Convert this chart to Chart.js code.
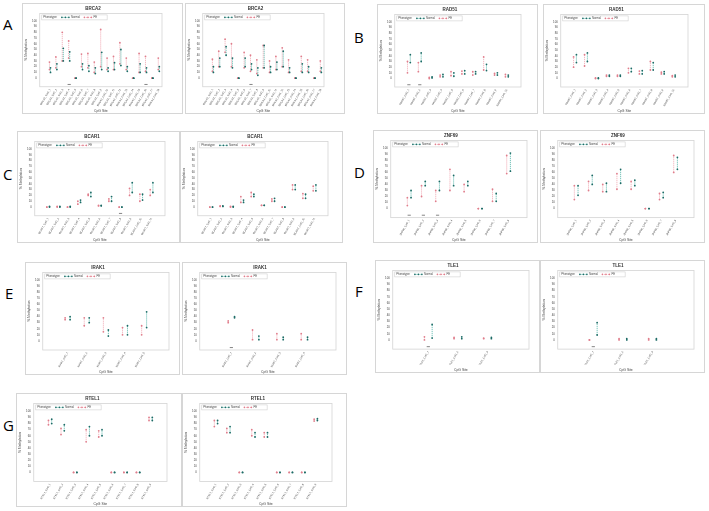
<!DOCTYPE html>
<html>
<head>
<meta charset="utf-8">
<script src="https://cdn.jsdelivr.net/npm/chart.js@4.4.1/dist/chart.umd.min.js"></script>
<style>
  body { margin: 0; background: #fff; width: 709px; height: 511px; position: relative; overflow: hidden; }
  .panel { position: absolute; border: 1px solid #d6d6d6; box-sizing: border-box; background: #fff; }
  .tag { position: absolute; font-family: "Open Sans", sans-serif; font-size: 15px; line-height: 1; color: #000; }
</style>
</head>
<body>
<div class="tag" style="left:3px;top:17px">A</div>
<div class="tag" style="left:354px;top:30px">B</div>
<div class="tag" style="left:3px;top:167px">C</div>
<div class="tag" style="left:354px;top:165px">D</div>
<div class="tag" style="left:5px;top:286px">E</div>
<div class="tag" style="left:355px;top:284px">F</div>
<div class="tag" style="left:3px;top:418px">G</div>

<div class="panel" style="left:22px;top:3px;width:161px;height:111px"><canvas id="brca2a"></canvas></div>
<div class="panel" style="left:185px;top:3px;width:160px;height:111px"><canvas id="brca2b"></canvas></div>
<div class="panel" style="left:377px;top:4px;width:161px;height:110px"><canvas id="rad51a"></canvas></div>
<div class="panel" style="left:543px;top:4px;width:162px;height:110px"><canvas id="rad51b"></canvas></div>
<div class="panel" style="left:17px;top:131px;width:163px;height:112px"><canvas id="bcar1a"></canvas></div>
<div class="panel" style="left:180px;top:131px;width:163px;height:112px"><canvas id="bcar1b"></canvas></div>
<div class="panel" style="left:373px;top:130px;width:165px;height:113px"><canvas id="znf69a"></canvas></div>
<div class="panel" style="left:540px;top:130px;width:165px;height:113px"><canvas id="znf69b"></canvas></div>
<div class="panel" style="left:25px;top:262px;width:155px;height:113px"><canvas id="irak1a"></canvas></div>
<div class="panel" style="left:182px;top:262px;width:165px;height:113px"><canvas id="irak1b"></canvas></div>
<div class="panel" style="left:375px;top:260px;width:165px;height:113px"><canvas id="tle1a"></canvas></div>
<div class="panel" style="left:540px;top:260px;width:165px;height:113px"><canvas id="tle1b"></canvas></div>
<div class="panel" style="left:16px;top:393px;width:166px;height:114px"><canvas id="rtel1a"></canvas></div>
<div class="panel" style="left:182px;top:393px;width:165px;height:114px"><canvas id="rtel1b"></canvas></div>

<script>
// y axis ticks shared by every panel
const yTicks = [0, 10, 20, 30, 40, 50, 60, 70, 80, 90, 100];
const legendTitle = "Phenotype:";

// ---- BRCA2 (A) ----
const brca2Sites = ["BRCA2_CpG_1", "BRCA2_CpG_2", "BRCA2_CpG_3", "BRCA2_CpG_4", "BRCA2_CpG_5", "BRCA2_CpG_6",
  "BRCA2_CpG_7", "BRCA2_CpG_8", "BRCA2_CpG_9", "BRCA2_CpG_10", "BRCA2_CpG_11", "BRCA2_CpG_12",
  "BRCA2_CpG_13", "BRCA2_CpG_14", "BRCA2_CpG_15", "BRCA2_CpG_16", "BRCA2_CpG_17", "BRCA2_CpG_18"];
const brca2aNormal = [[10,18],[15,25],[30,52],[30,46],[0,0],[15,25],[12,22],[8,18],[15,45],[12,18],[15,27],[22,50],[12,20],[0,0],[10,25],[10,18],[0,0],[12,20]];
const brca2aPE = [[15,28],[18,37],[30,80],[35,65],[0,0],[20,42],[18,43],[10,28],[20,85],[15,35],[15,38],[25,62],[15,35],[0,0],[10,43],[12,38],[0,0],[15,35]];
const brca2aBelow = [3, 15];
const brca2bNormal = [[10,20],[20,35],[40,55],[18,35],[0,0],[20,35],[15,25],[5,18],[18,57],[10,20],[15,28],[20,47],[10,18],[0,0],[10,25],[10,20],[0,0],[10,18]];
const brca2bPE = [[12,33],[20,47],[45,68],[20,60],[0,0],[18,45],[12,40],[8,32],[18,57],[10,30],[15,38],[20,53],[10,32],[0,0],[12,38],[12,32],[0,0],[12,30]];
const brca2bBelow = [6];

// ---- RAD51 (B) ----
const rad51Sites = ["RAD51_CpG_1", "RAD51_CpG_2", "RAD51_CpG_3", "RAD51_CpG_4", "RAD51_CpG_5",
  "RAD51_CpG_6", "RAD51_CpG_7", "RAD51_CpG_8", "RAD51_CpG_9", "RAD51_CpG_10"];
const rad51aNormal = [[28,42],[30,45],[1,3],[3,7],[4,10],[8,14],[8,12],[14,25],[6,10],[3,6]];
const rad51aPE = [[10,30],[12,28],[0,2],[3,6],[5,12],[8,13],[6,12],[15,38],[6,9],[3,7]];
const rad51aBelow = [0, 1];
const rad51bNormal = [[28,42],[30,45],[0,1],[4,6],[4,6],[12,18],[8,14],[15,28],[8,12],[3,6]];
const rad51bPE = [[20,38],[22,42],[0,1],[4,6],[4,6],[10,18],[8,13],[15,30],[8,11],[3,5]];
const rad51bBelow = [];

// ---- BCAR1 (C) ----
const bcar1Sites = ["BCAR1_CpG_1", "BCAR1_CpG_2", "BCAR1_CpG_3", "BCAR1_CpG_4", "BCAR1_CpG_5", "BCAR1_CpG_6",
  "BCAR1_CpG_7", "BCAR1_CpG_8", "BCAR1_CpG_9", "BCAR1_CpG_10", "BCAR1_CpG_11"];
const bcar1aNormal = [[0,1],[0,1],[0,1],[8,12],[18,25],[2,3],[10,18],[0,0],[25,42],[12,22],[25,42]];
const bcar1aPE = [[0,0],[0,1],[0,0],[5,10],[20,22],[2,3],[10,14],[0,0],[20,32],[10,22],[20,30]];
const bcar1aBelow = [7];
const bcar1bNormal = [[0,0],[1,2],[0,1],[8,12],[18,22],[3,3],[10,15],[0,0],[30,38],[15,22],[28,38]];
const bcar1bPE = [[0,0],[1,2],[0,1],[8,18],[18,25],[3,3],[10,14],[0,0],[30,38],[15,23],[28,36]];
const bcar1bBelow = [];

// ---- ZNF69 (D) ----
const znf69Sites = ["ZNF69_CpG_1", "ZNF69_CpG_2", "ZNF69_CpG_3", "ZNF69_CpG_4",
  "ZNF69_CpG_5", "ZNF69_CpG_6", "ZNF69_CpG_7", "ZNF69_CpG_8"];
const znf69aNormal = [[18,30],[38,45],[30,45],[38,55],[38,45],[0,0],[12,25],[62,92]];
const znf69aPE = [[5,18],[20,38],[12,30],[30,65],[28,40],[0,0],[12,32],[58,88]];
const znf69aBelow = [0, 1, 2];
const znf69bNormal = [[22,38],[40,55],[28,42],[42,65],[38,47],[0,0],[18,27],[65,85]];
const znf69bPE = [[15,38],[30,45],[28,40],[32,58],[32,45],[0,0],[15,25],[60,88]];
const znf69bBelow = [];

// ---- IRAK1 (E) ----
const irak1aSites = ["IRAK1_CpG_1", "IRAK1_CpG_2", "IRAK1_CpG_3", "IRAK1_CpG_4", "IRAK1_CpG_5"];
const irak1aNormal = [[35,40],[30,38],[8,18],[10,25],[22,48]];
const irak1aPE = [[35,38],[25,38],[15,38],[10,22],[10,25]];
const irak1aBelow = [];
const irak1bSites = ["IRAK1_CpG_1", "IRAK1_CpG_2", "IRAK1_CpG_3", "IRAK1_CpG_4"];
const irak1bNormal = [[38,40],[2,8],[2,6],[2,6]];
const irak1bPE = [[30,33],[2,18],[2,12],[2,12]];
const irak1bBelow = [0];

// ---- TLE1 (F) ----
const tle1Sites = ["TLE1_CpG_1", "TLE1_CpG_2", "TLE1_CpG_3"];
const tle1aNormal = [[3,25],[2,5],[2,4]];
const tle1aPE = [[0,5],[2,4],[2,3]];
const tle1aBelow = [0];
const tle1bNormal = [[8,28],[0,2],[0,2]];
const tle1bPE = [[0,0],[0,2],[0,2]];
const tle1bBelow = [0];

// ---- RTEL1 (G) ----
const rtel1Sites = ["RTEL1_CpG_1", "RTEL1_CpG_2", "RTEL1_CpG_3", "RTEL1_CpG_4", "RTEL1_CpG_5",
  "RTEL1_CpG_6", "RTEL1_CpG_7", "RTEL1_CpG_8", "RTEL1_CpG_9"];
const rtel1aNormal = [[80,87],[68,78],[0,0],[60,75],[60,70],[0,0],[0,0],[0,0],[85,90]];
const rtel1aPE = [[78,85],[62,72],[0,0],[50,70],[58,68],[0,0],[0,0],[0,0],[85,90]];
const rtel1bNormal = [[80,85],[65,75],[0,0],[58,65],[58,65],[0,0],[0,0],[0,0],[85,88]];
const rtel1bPE = [[75,85],[65,72],[0,0],[60,70],[58,65],[0,0],[0,0],[0,0],[84,87]];

const NORMAL_LINE = "#4fb3a6";
const NORMAL_DOT = "#1d6b66";
const PE_LINE = "#f0a3ae";
const PE_DOT = "#e07e8c";
const FONT = "'Liberation Sans', Arial, sans-serif";

Chart.defaults.font.family = FONT;
Chart.defaults.color = "#444";

// grey frame round the plotting area + the small legend box in its top-left corner
const frame = {
  id: "frame",
  beforeDraw(chart) {
    const a = chart.chartArea, ctx = chart.ctx;
    ctx.save();
    ctx.strokeStyle = "#d4d4d4";
    ctx.lineWidth = 0.8;
    ctx.strokeRect(a.left, a.top, a.right - a.left, a.bottom - a.top);
    ctx.restore();
  },
  afterDraw(chart) {
    const a = chart.chartArea, ctx = chart.ctx;
    const sets = chart.data.datasets.filter(d => d.label !== "below");
    ctx.save();
    ctx.font = "2.8px " + FONT;
    ctx.textBaseline = "middle";
    const y = a.top + 4;
    const start = a.left + 2;
    let x = start + 1.5;
    ctx.fillStyle = "#444";
    ctx.fillText(legendTitle, x, y);
    x += ctx.measureText(legendTitle).width + 4;
    sets.forEach(d => {
      ctx.strokeStyle = d.borderColor;
      ctx.lineWidth = 0.8;
      ctx.setLineDash([1.2, 0.8]);
      ctx.beginPath();
      ctx.moveTo(x, y);
      ctx.lineTo(x + 8, y);
      ctx.stroke();
      ctx.setLineDash([]);
      ctx.fillStyle = d.pointBackgroundColor;
      [0.5, 4, 7.5].forEach(dx => { ctx.beginPath(); ctx.arc(x + dx, y, 0.8, 0, Math.PI * 2); ctx.fill(); });
      x += 9.5;
      ctx.fillStyle = "#444";
      ctx.fillText(d.label, x, y);
      x += ctx.measureText(d.label).width + 4;
    });
    ctx.strokeStyle = "#cfcfcf";
    ctx.lineWidth = 0.6;
    ctx.strokeRect(start, a.top + 1.5, x - start + 6, 5);
    ctx.restore();
  }
};

// each range becomes a short vertical segment, broken by a null point
function rangePoints(ranges, shift) {
  const pts = [];
  ranges.forEach((r, i) => {
    pts.push({ x: i + shift, y: r[0] }, { x: i + shift, y: r[1] }, { x: i + shift, y: null });
  });
  return pts;
}

function drawPanel(id, title, sites, normal, pe, below, opts) {
  opts = opts || {};
  const padL = opts.padL || 1.3, padR = opts.padR || 1.3;
  const shift = opts.shift || 0.13;

  new Chart(document.getElementById(id), {
    type: "line",
    data: {
      datasets: [
        {
          label: "Normal",
          data: rangePoints(normal, shift),
          borderColor: NORMAL_LINE,
          borderWidth: 0.8,
          borderDash: [1.2, 0.8],
          pointRadius: 0.9,
          pointBackgroundColor: NORMAL_DOT,
          pointBorderWidth: 0,
          spanGaps: false
        },
        {
          label: "PE",
          data: rangePoints(pe, -shift),
          borderColor: PE_LINE,
          borderWidth: 0.8,
          borderDash: [1.2, 0.8],
          pointRadius: 0.9,
          pointBackgroundColor: PE_DOT,
          pointBorderWidth: 0,
          spanGaps: false
        },
        {
          label: "below",
          data: below.map(i => ({ x: i, y: -11 })),
          showLine: false,
          pointStyle: "line",
          pointRadius: 1.6,
          borderColor: "#666",
          borderWidth: 0.8
        }
      ]
    },
    options: {
      responsive: true,
      maintainAspectRatio: false,
      animation: false,
      layout: { padding: { left: 1, right: opts.right || 10, top: 0, bottom: 0 } },
      plugins: {
        title: {
          display: true,
          text: title,
          font: { size: 4.5, weight: "bold" },
          color: "#333",
          padding: { top: 2, bottom: 2 }
        },
        legend: { display: false },
        tooltip: { enabled: false }
      },
      scales: {
        x: {
          type: "linear",
          min: -padL,
          max: sites.length - 1 + padR,
          afterBuildTicks: s => { s.ticks = sites.map((_, i) => ({ value: i })); },
          grid: { display: false, drawTicks: false },
          border: { display: false },
          ticks: {
            callback: v => sites[v],
            autoSkip: false,
            minRotation: 60,
            maxRotation: 60,
            padding: 1.5,
            font: { size: 2.6 }
          },
          title: { display: true, text: "CpG Site", font: { size: 3.4 }, padding: { top: 0.5, bottom: 0 } }
        },
        y: {
          min: -15,
          max: 113,
          afterBuildTicks: s => { s.ticks = yTicks.map(v => ({ value: v })); },
          grid: { display: false, drawTicks: false },
          border: { display: false },
          ticks: { font: { size: 2.8 }, padding: 3 },
          title: { display: true, text: "% Methylation", font: { size: 3.4 }, padding: { top: 0, bottom: 1 } }
        }
      }
    },
    plugins: [frame]
  });
}

drawPanel("brca2a", "BRCA2", brca2Sites, brca2aNormal, brca2aPE, brca2aBelow, { padL: 1.6, padR: 0.5, shift: 0.08, right: 20 });
drawPanel("brca2b", "BRCA2", brca2Sites, brca2bNormal, brca2bPE, brca2bBelow, { padL: 1.6, padR: 0.5, shift: 0.08, right: 20 });
drawPanel("rad51a", "RAD51", rad51Sites, rad51aNormal, rad51aPE, rad51aBelow, { right: 16 });
drawPanel("rad51b", "RAD51", rad51Sites, rad51bNormal, rad51bPE, rad51bBelow, { right: 16 });
drawPanel("bcar1a", "BCAR1", bcar1Sites, bcar1aNormal, bcar1aPE, bcar1aBelow, { right: 14 });
drawPanel("bcar1b", "BCAR1", bcar1Sites, bcar1bNormal, bcar1bPE, bcar1bBelow, { right: 14 });
drawPanel("znf69a", "ZNF69", znf69Sites, znf69aNormal, znf69aPE, znf69aBelow);
drawPanel("znf69b", "ZNF69", znf69Sites, znf69bNormal, znf69bPE, znf69bBelow);
drawPanel("irak1a", "IRAK1", irak1aSites, irak1aNormal, irak1aPE, irak1aBelow);
drawPanel("irak1b", "IRAK1", irak1bSites, irak1bNormal, irak1bPE, irak1bBelow);
drawPanel("tle1a", "TLE1", tle1Sites, tle1aNormal, tle1aPE, tle1aBelow, { padL: 1.2, padR: 1.4 });
drawPanel("tle1b", "TLE1", tle1Sites, tle1bNormal, tle1bPE, tle1bBelow, { padL: 1.2, padR: 1.4 });
drawPanel("rtel1a", "RTEL1", rtel1Sites, rtel1aNormal, rtel1aPE, [], { right: 14 });
drawPanel("rtel1b", "RTEL1", rtel1Sites, rtel1bNormal, rtel1bPE, [], { right: 14 });
</script>
</body>
</html>
